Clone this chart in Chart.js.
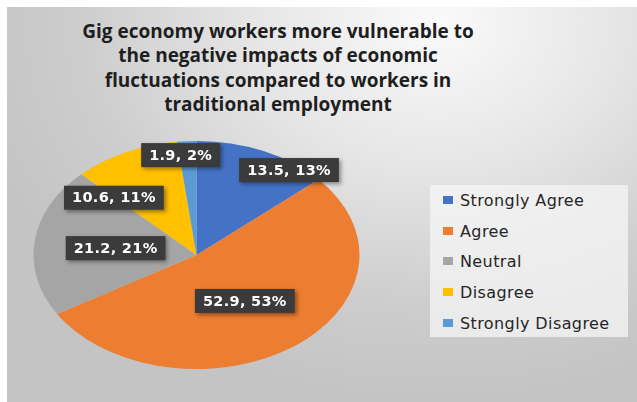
<!DOCTYPE html>
<html>
<head>
<meta charset="utf-8">
<script src="https://cdn.jsdelivr.net/npm/chart.js@4.4.1/dist/chart.umd.min.js"></script>
<style>
    body { margin: 0; background: #fff; }
    #wrap { position: relative; width: 637px; height: 402px; overflow: hidden; }
    #bg {
        position: absolute; left: 7px; top: 7px; right: 0; bottom: 0;
        background: radial-gradient(ellipse 75% 95% at 68% 4%, #fafafa 0%, #e6e6e6 38%, #cdcdcd 75%, #c4c4c4 100%);
    }
    #title {
        position: absolute; left: 0; top: 19px; width: 556px;
        text-align: center; font: bold 19px "Open Sans", sans-serif; line-height: 24.3px;
        color: #1e1e1e;
    }
    #legend {
        position: absolute; left: 430px; top: 185px; width: 198px; height: 152px;
        background: rgba(245,245,245,0.75);
    }
    .item { position: absolute; left: 13px; font: 16px "DejaVu Sans", sans-serif; letter-spacing: 0.4px; color: #262626; white-space: nowrap; }
    .item span { display: inline-block; width: 10px; height: 8px; margin-right: 7px; vertical-align: 2px; }
    canvas { position: absolute; left: 0; top: 0; }
</style>
</head>
<body>
<div id="wrap">
    <div id="bg"></div>
    <div id="title">Gig economy workers more vulnerable to<br>the negative impacts of economic<br>fluctuations compared to workers in<br>traditional employment</div>
    <div id="legend"></div>
    <canvas id="pie" width="637" height="402"></canvas>
</div>
<script>
// data
let categories = ['Strongly Agree', 'Agree', 'Neutral', 'Disagree', 'Strongly Disagree']
let values = [13.5, 52.9, 21.2, 10.6, 1.9]
let percents = [13, 53, 21, 11, 2]
let colors = ['#4472C4', '#ED7D31', '#A5A5A5', '#FFC000', '#5B9BD5']

// pie is drawn stretched sideways, like the original
let stretch = 163 / 114

// label spot: half the radius, then a nudge in px (Excel "best fit")
let labelNudge = [[59, -33], [0, 0], [0, 0], [-47, -6], [-11, -43]]

// legend
let legendDiv = document.querySelector('#legend')
categories.forEach((c, i) => {
    let d = document.createElement('div')
    d.className = 'item'
    d.style.top = `${6 + i * 30.7}px`
    d.innerHTML = `<span style="background:${colors[i]}"></span>${c}`
    legendDiv.append(d)
})

let ellipsePlugin = {
    id: 'ellipse',
    beforeDatasetsDraw(chart) {
        let arc = chart.getDatasetMeta(0).data[0]
        let ctx = chart.ctx
        ctx.save()
        ctx.translate(arc.x, arc.y)
        ctx.scale(stretch, 1)
        ctx.translate(-arc.x, -arc.y)
    },
    afterDatasetsDraw(chart) {
        let ctx = chart.ctx
        ctx.restore()
        ctx.save()
        ctx.font = 'bold 14.5px "DejaVu Sans", sans-serif'
        ctx.letterSpacing = '0.3px'
        ctx.textAlign = 'center'
        ctx.textBaseline = 'middle'
        chart.getDatasetMeta(0).data.forEach((arc, i) => {
            let mid = (arc.startAngle + arc.endAngle) / 2
            let r = arc.outerRadius * 0.5
            let lx = arc.x + Math.cos(mid) * r * stretch + labelNudge[i][0]
            let ly = arc.y + Math.sin(mid) * r + labelNudge[i][1]
            let txt = `${values[i]}, ${percents[i]}%`
            let w = ctx.measureText(txt).width + 16
            let h = 24
            ctx.shadowColor = 'rgba(0,0,0,0.4)'
            ctx.shadowBlur = 4
            ctx.shadowOffsetX = 2
            ctx.shadowOffsetY = 2
            ctx.fillStyle = '#3b3b3b'
            ctx.fillRect(lx - w / 2, ly - h / 2, w, h)
            ctx.shadowColor = 'transparent'
            ctx.fillStyle = '#ffffff'
            ctx.fillText(txt, lx, ly + 1)
        })
        ctx.restore()
    }
}

new Chart('pie', {
    type: 'pie',
    data: {
        labels: categories,
        datasets: [{
            data: values,
            backgroundColor: colors,
            borderWidth: 0,
            hoverOffset: 0
        }]
    },
    options: {
        responsive: false,
        animation: false,
        events: [],
        devicePixelRatio: 1,
        layout: {
            padding: { left: 82.5, right: 326.5, top: 141, bottom: 33 }
        },
        plugins: {
            legend: { display: false },
            tooltip: { enabled: false }
        }
    },
    plugins: [ellipsePlugin]
})
</script>
</body>
</html>
